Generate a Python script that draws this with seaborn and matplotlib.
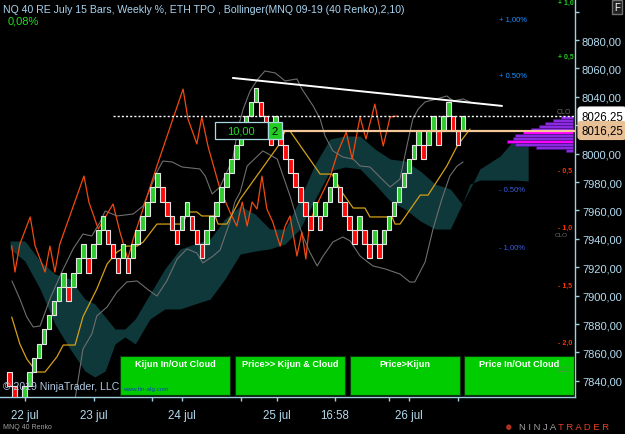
import numpy as np
import pandas as pd
import matplotlib
matplotlib.use('Agg')
import matplotlib.pyplot as plt
from matplotlib.patches import Rectangle
import seaborn as sns

# ---------------- data ----------------
brick_size = 10.0
brick_base = 7826.25
# renko bricks, one per column: level (bottom = base + 10*level) and up/down
brick_level = [1, 0, -1, 0, 1, 2, 3, 4, 5, 6, 7, 8, 7, 8, 9, 10, 9, 10, 11, 12,
               11, 10, 9, 10, 9, 10, 11, 12, 13, 14, 15, 14, 13, 12, 11, 12, 13, 12, 11, 10,
               11, 12, 13, 14, 15, 16, 17, 18, 19, 20, 21, 20, 19, 18, 19, 18, 17, 16, 15, 14,
               13, 12, 13, 12, 13, 14, 15, 14, 13, 12, 11, 12, 11, 10, 11, 10, 11, 12, 13, 14,
               15, 16, 17, 18, 17, 18, 19, 18, 19, 20, 19, 18, 19]
brick_up = [0, 0, 0, 1, 1, 1, 1, 1, 1, 1, 1, 1, 0, 1, 1, 1, 0, 1, 1, 1,
            0, 0, 0, 1, 0, 1, 1, 1, 1, 1, 1, 0, 0, 0, 0, 1, 1, 0, 0, 0,
            1, 1, 1, 1, 1, 1, 1, 1, 1, 1, 1, 0, 0, 0, 1, 0, 0, 0, 0, 0,
            0, 0, 1, 0, 1, 1, 1, 0, 0, 0, 0, 1, 0, 0, 1, 0, 1, 1, 1, 1,
            1, 1, 1, 1, 0, 1, 1, 0, 1, 1, 0, 0, 1]

# chikou span (orange)
chikou_x = [0.45, 1.1, 2.1, 4.2, 5.2, 7.2, 8.2, 9.2, 10.2, 15.1, 16.1, 18.0, 21.0, 22.4,
            24.0, 25.1, 29.9, 35.2, 36.2, 38.0, 39.0, 40.3, 42.7, 44.7, 46.1, 47.2, 48.2,
            49.2, 50.2, 51.2, 52.2, 53.4, 54.9, 55.9, 56.9, 58.3, 59.3, 60.1, 60.9, 62.6,
            65.0, 66.6, 68.3, 69.5, 71.1, 72.3, 74.1, 75.8, 77.2, 78.6]
chikou_y = [7935.1, 7916.6, 7936.3, 7955.4, 7934.9, 7916.6, 7934.9, 7916.6, 7936.3, 7984.2,
            7965.9, 7946.9, 7964.5, 7944.8, 7925.8, 7939.9, 7991.3, 8045.5, 8024.4, 8006.8,
            8025.8, 8004.6, 7975.1, 7958.9, 7949.0, 7965.9, 7949.0, 7965.9, 7961.0, 7984.2,
            7961.0, 7951.8, 7934.9, 7949.0, 7956.1, 7927.9, 7944.8, 7925.8, 7951.8, 7965.9,
            7983.5, 8001.1, 8015.2, 7996.2, 8025.8, 8010.3, 8034.9, 8005.4, 8025.8, 8026.5]

# kijun (gold)
kijun_x = [0.45, 2.1, 3.5, 5.5, 7.2, 9.6, 10.9, 13.3, 14.9, 17.7, 19.8, 21.8, 23.8, 25.9,
           27.1, 29.9, 35.2, 36.0, 38.0, 39.0, 41.7, 42.3, 44.1, 46.8, 54.5, 55.9, 56.9,
           63.0, 65.4, 67.4, 69.7, 72.1, 73.1, 77.6, 78.2, 79.2, 83.3, 84.9, 88.7, 90.8, 93.4]
kijun_y = [7884.9, 7865.9, 7855.4, 7846.2, 7846.2, 7856.8, 7865.2, 7865.2, 7885.1, 7904.6,
           7922.3, 7930.7, 7934.9, 7934.9, 7937.7, 7950.4, 7950.4, 7958.9, 7958.9, 7956.1,
           7956.1, 7950.4, 7950.4, 7968.0, 8005.4, 8015.9, 8015.9, 7985.6, 7985.6, 7973.0,
           7961.7, 7961.7, 7955.4, 7955.4, 7950.4, 7950.4, 7970.8, 7970.8, 7991.3, 8005.4, 8017.3]

# bollinger upper / lower (gray)
bb_up_x = [0.5, 2.1, 3.5, 4.8, 6.2, 8.2, 10.6, 12.9, 14.9, 16.7, 18.4, 19.4, 21.8, 25.1,
           27.1, 29.9, 31.1, 33.0, 35.0, 38.6, 39.7, 41.1, 42.7, 45.3, 46.3, 47.4, 48.8,
           50.4, 51.8, 53.9, 55.9, 58.3, 59.3, 61.6, 63.0, 64.0, 65.6, 67.6, 69.7, 71.1,
           73.1, 75.1, 77.2, 79.2, 80.6, 81.8, 82.9, 84.3, 86.7, 88.7, 90.0, 92.0, 93.4]
bb_up_y = [7910.3, 7897.6, 7885.0, 7877.9, 7878.6, 7897.6, 7916.6, 7932.9, 7943.4, 7942.0,
           7951.9, 7959.6, 7956.1, 7957.5, 7963.1, 7987.1, 7994.8, 7994.1, 7990.6, 7989.2,
           7984.2, 7971.6, 7976.5, 7996.2, 8017.4, 8031.4, 8044.1, 8052.6, 8058.2, 8056.8,
           8051.2, 8052.6, 8045.5, 8033.5, 8024.4, 8012.4, 8001.9, 7997.6, 7996.2, 7991.3,
           7990.6, 7983.6, 7976.5, 7982.1, 8005.4, 8024.4, 8031.4, 8036.4, 8038.5, 8040.6,
           8037.1, 8038.5, 8036.4]
bb_lo_x = [13.3, 14.9, 16.7, 17.7, 19.8, 21.8, 23.8, 25.9, 27.9, 29.9, 31.9, 34.0, 36.0,
           38.0, 39.2, 41.3, 42.7, 44.7, 45.7, 46.8, 48.2, 51.4, 54.3, 55.5, 56.9, 58.3,
           59.5, 60.9, 62.4, 63.6, 65.6, 67.6, 69.1, 71.1, 73.7, 76.2, 79.2, 81.2, 82.2,
           84.3, 85.9, 87.7, 89.3, 90.8, 92.0]
bb_lo_y = [7827.2, 7862.4, 7873.0, 7885.7, 7892.0, 7902.6, 7909.6, 7910.3, 7904.7, 7899.7,
           7910.3, 7925.8, 7932.9, 7930.0, 7923.0, 7927.9, 7932.1, 7951.9, 7965.9, 7973.0,
           7991.3, 8001.9, 7996.2, 7984.2, 7970.2, 7954.0, 7942.0, 7930.7, 7920.9, 7927.9,
           7937.8, 7941.3, 7938.5, 7927.9, 7920.9, 7918.8, 7915.2, 7909.6, 7909.6, 7923.7,
           7946.9, 7968.1, 7984.2, 7991.3, 7994.1]

# ichimoku cloud edges
cloud_x = [0.1, 3.1, 6.2, 9.2, 12.3, 15.3, 17.3, 19.4, 21.4, 23.4, 25.5, 28.5, 31.5, 34.6,
           37.6, 40.7, 43.7, 46.8, 49.8, 52.8, 55.9, 58.9, 62.0, 65.0, 68.1, 71.1, 74.1,
           77.2, 80.2, 83.3, 86.3, 89.4, 91.8, 93.4, 95.4, 99.5, 102.5, 105.2]
cloud_a = [7938.5, 7938.5, 7924.4, 7915.3, 7911.7, 7897.6, 7894.1, 7885.0, 7876.5, 7876.5,
           7883.6, 7901.2, 7918.8, 7932.9, 7936.4, 7939.9, 7954.0, 7963.1, 7957.5, 7946.9,
           7946.9, 7968.1, 7992.7, 8010.3, 8012.4, 8012.4, 8003.3, 7996.2, 7994.8, 7987.8,
           7978.6, 7975.1, 7964.5, 7975.1, 7989.2, 7998.3, 8010.3, 8010.3]
cloud_b = [7932.9, 7924.4, 7904.7, 7880.0, 7862.4, 7846.9, 7842.7, 7846.9, 7866.0, 7870.9,
           7866.0, 7883.6, 7890.6, 7890.6, 7894.1, 7897.6, 7911.7, 7929.3, 7931.4, 7932.9,
           7936.4, 7946.9, 7968.1, 7987.8, 7990.6, 7989.2, 7978.6, 7966.6, 7961.0, 7952.6,
           7946.9, 7946.9, 7964.5, 7978.6, 7981.4, 7981.4, 7981.4, 7980.7]

# TPO profile (purple) rows
tpo_price = [8025.4, 8023.3, 8021.2, 8019.1, 8017.0, 8014.9, 8012.8, 8010.7, 8008.5,
             8006.4, 8004.3, 8002.2]
tpo_len = [2.4, 3.9, 5.5, 6.9, 8.5, 10.1, 11.6, 12.0, 13.2, 11.6, 7.5, 1.4]
tpo_magenta = [0, 0, 0, 0, 0, 1, 0, 0, 1, 0, 0, 0]

last_price = 8026.25
line_price = 8016.25
trend_x = [45.3, 99.9]
trend_y = [8053.3, 8033.6]

xtick_pos = [3.1, 17.1, 35.0, 54.3, 66.0, 81.0]
xtick_lab = ['22 jul', '23 jul', '24 jul', '25 jul', '16:58', '26 jul']
xminor_pos = [28.9, 47.0, 77.0, 91.0]
ytick_pos = [7840, 7860, 7880, 7900, 7920, 7940, 7960, 7980, 8000, 8040, 8060, 8080]
ytick_minor = [8020, 8100]

pct_lab = ['+ 1,00%', '+ 0.50%', '- 0.50%', '- 1,00%']
pct_price = [8095.4, 8055.3, 7974.6, 7934.5]
wk_lab = ['+ 1,0', '+ 0,5', '- 0,5', '- 1,0', '- 1,5', '- 2,0']
wk_price = [8106.5, 8068.8, 7988.0, 7948.2, 7907.3, 7867.3]

box_names = ['Kijun In/Out Cloud', 'Price>> Kijun & Cloud', 'Price>Kijun', 'Price In/Out Cloud']
box_left = [120, 235, 350, 464]

# ---------------- drawing ----------------
sns.set_theme(style='dark', rc={'axes.facecolor': 'black', 'figure.facecolor': 'black'})
plt.rcParams['font.family'] = ['Liberation Sans', 'DejaVu Sans']

fig = plt.figure(figsize=(6.25, 4.35), dpi=100)
ax = fig.add_axes([0, 37 / 435, 575 / 625, 398 / 435])
ax.set_facecolor('black')

cols = np.arange(len(brick_level))
bottoms = brick_base + brick_size * np.array(brick_level)

ax.fill_between(cloud_x, cloud_a, cloud_b, color='#0F383B', lw=0, zorder=1)

# tpo profile from right edge
for p, L, m in zip(tpo_price, tpo_len, tpo_magenta):
    ax.barh(p, L, height=2.0, left=114.2 - L, color='#FF00FF' if m else '#8A2BE2',
            edgecolor='#4B0F80', lw=0.4, zorder=2)

sns.lineplot(x=bb_up_x, y=bb_up_y, ax=ax, color='#6E6E6E', lw=0.8, sort=False, zorder=3)
sns.lineplot(x=bb_lo_x, y=bb_lo_y, ax=ax, color='#6E6E6E', lw=0.8, sort=False, zorder=3)
sns.lineplot(x=chikou_x, y=chikou_y, ax=ax, color='#F04A10', lw=0.9, sort=False, zorder=3)
sns.lineplot(x=kijun_x, y=kijun_y, ax=ax, color='#D4A017', lw=0.9, sort=False, zorder=3)

up = np.array(brick_up) == 1
ax.bar(cols[up], brick_size, bottom=bottoms[up], width=0.92, color='#2ECC2E',
       edgecolor='#E6E6E6', lw=0.8, zorder=4)
ax.bar(cols[~up], brick_size, bottom=bottoms[~up], width=0.92, color='#FF0A0A',
       edgecolor='#E6E6E6', lw=0.8, zorder=4)

ax.axhline(last_price, xmin=(21 + 1.93) / 116.63, color='white', lw=1, ls=(0, (1.5, 1.5)), zorder=5)
ax.axhline(line_price, xmin=(42 + 1.93) / 116.63, color='#F5C89A', lw=1.6, zorder=5)
ax.plot(trend_x, trend_y, color='white', lw=1.4, zorder=5)

# brick size box
ax.add_patch(Rectangle((41.7, line_price - 6), 10.7, 12, facecolor='black',
                       edgecolor='#A8D8E0', lw=0.9, zorder=6))
ax.text(47.0, line_price, '10,00', color='#22DD22', fontsize=8, ha='center', va='center', zorder=7)
ax.add_patch(Rectangle((52.4, line_price - 6), 2.8, 12, facecolor='#22CC22',
                       edgecolor='#A8D8E0', lw=0.9, zorder=6))
ax.text(53.8, line_price, '2', color='black', fontsize=8, ha='center', va='center', zorder=7)

ax.set_xlim(-1.93, 114.7)
ax.set_ylim(7828.6, 8108.9)

# axes styling
for s in ['top', 'left']:
    ax.spines[s].set_visible(False)
for s in ['right', 'bottom']:
    ax.spines[s].set_color('#9FD0E0')
    ax.spines[s].set_linewidth(1)
ax.yaxis.tick_right()
ax.set_yticks(ytick_pos)
ax.set_yticklabels([f'{v:.2f}'.replace('.', ',') for v in ytick_pos])
ax.set_yticks(ytick_minor, minor=True)
ax.set_xticks(xtick_pos)
ax.set_xticklabels(xtick_lab)
ax.set_xticks(xminor_pos, minor=True)
ax.tick_params(axis='y', which='both', colors='#9FD0E0', labelcolor='#B4DCF0', labelsize=8,
               length=3, width=1, direction='out', pad=2, right=True, left=False)
ax.tick_params(axis='x', which='both', colors='#9FD0E0', labelcolor='#B4DCF0',
               labelsize=8.3, length=3, width=1, direction='out', pad=6, bottom=True)
ax.grid(False)

# weekly percent labels
for lab, p, c in zip(pct_lab, pct_price, ['#1E90FF', '#1E90FF', '#3A5FE0', '#3A5FE0']):
    ax.text(99.2, p, lab, color=c, fontsize=5.5, ha='left', va='center', zorder=6)
for lab, p in zip(wk_lab, wk_price):
    ax.text(111.3, p, lab, color='#22CC22' if lab.startswith('+') else '#FF3300',
            fontsize=5, ha='left', va='center', fontweight='bold', zorder=6)
ax.text(111.0, 8029.5, 'CLO', color='#707070', fontsize=5, ha='left', va='center')
ax.text(110.6, 7943.0, 'CLO', color='#707070', fontsize=4.6, ha='left', va='center')

# status boxes
for name, lft in zip(box_names, box_left):
    ax.add_patch(Rectangle((lft / 575, 0.005), 110 / 575, 0.098, transform=ax.transAxes,
                           facecolor='#00CC00', edgecolor='#0A3A0A', lw=0.8, zorder=8))
    ax.text((lft + 55) / 575, 0.085, name, transform=ax.transAxes, color='white',
            fontsize=6.6, fontweight='bold', ha='center', va='center', zorder=9)
ax.text(0.968, 0.068, 'CLO', transform=ax.transAxes, color='#5A8A5A', fontsize=5,
        ha='left', va='center', zorder=9)

# texts
fig.text(3 / 625, 1 - 10 / 435, 'NQ 40 RE July 15 Bars, Weekly %, ETH TPO , Bollinger(MNQ 09-19 (40 Renko),2,10)',
         color='#A8D4F0', fontsize=7.6, ha='left', va='center')
fig.text(8 / 625, 1 - 22 / 435, '0,08%', color='#22DD22', fontsize=8, ha='left', va='center')
fig.text(3 / 625, 1 - 387 / 435, '\u00a9 2019 NinjaTrader, LLC', color='#B0C8E0', fontsize=7.6,
         ha='left', va='center', zorder=10)
fig.text(123 / 625, 1 - 390 / 435, 'www.fin-alg.com', color='#1040C0', fontsize=4.5,
         ha='left', va='center', zorder=10)
fig.text(3 / 625, 1 - 428 / 435, 'MNQ 40 Renko', color='#A0A0A0', fontsize=5,
         ha='left', va='center')
fig.text(519 / 625, 1 - 428 / 435, 'N I N J A', color='#A0A0A0', fontsize=6.8,
         ha='left', va='center')
fig.text(558 / 625, 1 - 428 / 435, 'T R A D E R', color='#E0402A', fontsize=6.8,
         ha='left', va='center')
fig.text(505 / 625, 1 - 428 / 435, '\u25cf', color='#B03020', fontsize=9, ha='left', va='center')

# price markers on the right
fig.text(581 / 625, 1 - 117 / 435, '8026,25', color='black', fontsize=8.3, ha='left', va='center',
         bbox=dict(boxstyle='round,pad=0.25', facecolor='white', edgecolor='white'))
fig.text(581 / 625, 1 - 131.5 / 435, '8016,25', color='black', fontsize=8.3, ha='left', va='center',
         bbox=dict(boxstyle='round,pad=0.25', facecolor='#E8C096', edgecolor='#E8C096'))
fig.text(617 / 625, 1 - 8 / 435, 'F', color='white', fontsize=7, ha='center', va='center',
         bbox=dict(boxstyle='square,pad=0.2', facecolor='#202020', edgecolor='#707070'))

fig.savefig('out.png', dpi=100, facecolor='black')
